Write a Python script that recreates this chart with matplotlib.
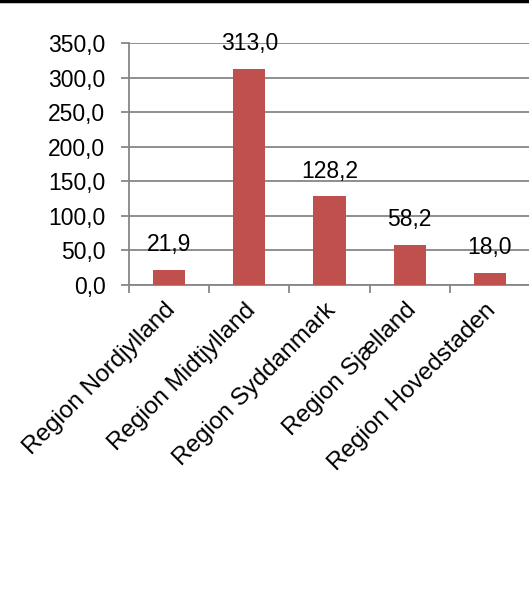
import numpy as np
import matplotlib.pyplot as plt
from matplotlib.lines import Line2D

regions = ['Region Nordjylland', 'Region Midtjylland', 'Region Syddanmark',
           'Region Sjælland', 'Region Hovedstaden']
values = [21.9, 313.0, 128.2, 58.2, 18.0]
yticks = [0, 50, 100, 150, 200, 250, 300, 350]

plt.rcParams['font.family'] = ['Liberation Sans', 'DejaVu Sans']
plt.rcParams['font.size'] = 16.5

grey = '#868686'

fig = plt.figure(figsize=(5.29, 6.01), dpi=100)
ax = fig.add_axes([129 / 529, 1 - 285 / 601, 401 / 529, 242 / 601])

x = np.arange(len(regions))
ax.bar(x, values, width=0.4, color='#C0504D', zorder=3)

for xi, v in zip(x, values):
    ax.annotate(f'{v:.1f}'.replace('.', ','), (xi, v), xytext=(0, 18),
                textcoords='offset points', ha='center', va='center',
                zorder=4)

ax.set_xlim(-0.5, len(regions) - 0.5)
ax.set_ylim(0, 350)
ax.set_yticks(yticks)
ax.set_yticklabels([f'{t:.1f}'.replace('.', ',') for t in yticks])
ax.yaxis.grid(True, color=grey, linewidth=1.3, zorder=0)

# labels sit at the category centres, tick marks at the boundaries
ax.set_xticks(x - 0.06)
ax.set_xticklabels(regions, rotation=45, ha='right', rotation_mode='anchor',
                   fontsize=17.5)
ax.set_xticks(np.arange(len(regions)) - 0.5, minor=True)
ax.tick_params(axis='x', which='major', length=0, pad=10)
ax.tick_params(axis='x', which='minor', length=6, width=1.3, color=grey,
               direction='out')
ax.tick_params(axis='y', length=6, width=1.3, color=grey, pad=11)

for side in ['top', 'right']:
    ax.spines[side].set_visible(False)
for side in ['left', 'bottom']:
    ax.spines[side].set_color(grey)
    ax.spines[side].set_linewidth(1.3)

fig.add_artist(Line2D([0, 1], [0.998, 0.998], color='black', linewidth=2.5,
                      transform=fig.transFigure))

fig.savefig('out.png', dpi=100, facecolor='white')
